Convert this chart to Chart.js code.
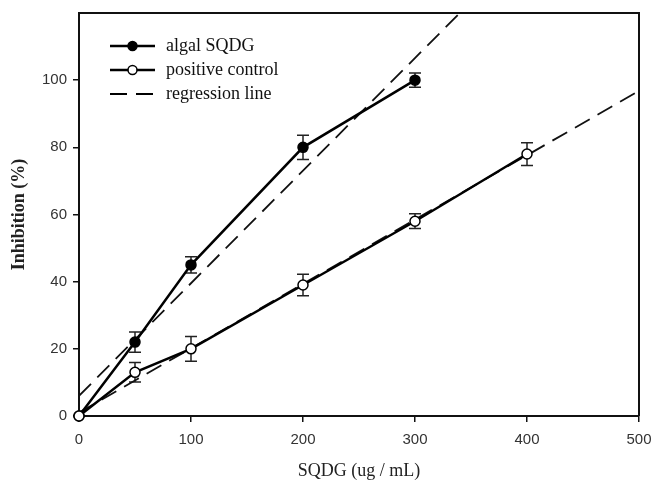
<!DOCTYPE html>
<html>
<head>
<meta charset="utf-8">
<script src="https://cdn.jsdelivr.net/npm/chart.js@4/dist/chart.umd.min.js"></script>
<style>
  html, body { margin: 0; padding: 0; background: #fff; }
  #wrap { width: 654px; height: 483px; }
</style>
</head>
<body>
<div id="wrap"><canvas id="chart" width="654" height="483"></canvas></div>
<script>
// data
var doses = [0, 50, 100, 200, 300, 400];
var algal = [0, 22, 45, 80, 100];
var algalErr = [0, 3, 2.4, 3.6, 2.1];
var control = [0, 13, 20, 39, 58, 78];
var controlErr = [0, 2.9, 3.7, 3.2, 2.2, 3.4];
// regression lines (end points)
var regAlgalX = [0, 340];
var regAlgalY = [6, 120];
var regControlX = [0, 500];
var regControlY = [1, 96.8];
var yTicks = [0, 20, 40, 60, 80, 100];

function pts(xs, ys){
  var out = [];
  for (var i = 0; i < ys.length; i++) out.push({x: xs[i], y: ys[i]});
  return out;
}

var serif = "'Liberation Serif', 'Times New Roman', serif";
var sans = "'Liberation Sans', Arial, sans-serif";

// error bars drawn through the scales
var errorBars = {
  id: 'errorBars',
  beforeDatasetsDraw: function(chart){
    var ctx = chart.ctx;
    var xs = chart.scales.x, ys = chart.scales.y;
    var sets = [[algal, algalErr], [control, controlErr]];
    ctx.save();
    ctx.strokeStyle = '#222';
    ctx.lineWidth = 1.5;
    sets.forEach(function(s){
      s[0].forEach(function(v, i){
        var e = s[1][i];
        if (!e) return;
        var px = xs.getPixelForValue(doses[i]);
        var top = ys.getPixelForValue(v + e);
        var bot = ys.getPixelForValue(v - e);
        ctx.beginPath();
        ctx.moveTo(px, top); ctx.lineTo(px, bot);
        ctx.moveTo(px - 6, top); ctx.lineTo(px + 6, top);
        ctx.moveTo(px - 6, bot); ctx.lineTo(px + 6, bot);
        ctx.stroke();
      });
    });
    ctx.restore();
  }
};

// frame on top/right + legend
var frameLegend = {
  id: 'frameLegend',
  afterDraw: function(chart){
    var ctx = chart.ctx;
    var a = chart.chartArea;
    ctx.save();
    ctx.strokeStyle = '#111';
    ctx.lineWidth = 2;
    ctx.beginPath();
    ctx.moveTo(a.left, a.top); ctx.lineTo(a.right, a.top); ctx.lineTo(a.right, a.bottom);
    ctx.stroke();

    var items = [
      {label: 'algal SQDG', fill: '#000', dash: []},
      {label: 'positive control', fill: '#fff', dash: []},
      {label: 'regression line', fill: null, dash: [17, 9]}
    ];
    var x0 = 110, x1 = 155, y = 46;
    ctx.font = '18px ' + serif;
    ctx.textBaseline = 'middle';
    items.forEach(function(it){
      ctx.strokeStyle = '#000';
      ctx.lineWidth = it.fill ? 2.5 : 1.8;
      ctx.setLineDash(it.dash);
      ctx.beginPath();
      ctx.moveTo(x0, y); ctx.lineTo(x1, y);
      ctx.stroke();
      ctx.setLineDash([]);
      if (it.fill) {
        ctx.beginPath();
        ctx.arc((x0 + x1) / 2, y, 4.5, 0, Math.PI * 2);
        ctx.fillStyle = it.fill;
        ctx.fill();
        ctx.lineWidth = 1.5;
        ctx.stroke();
      }
      ctx.fillStyle = '#111';
      ctx.fillText(it.label, 166, y);
      y += 24;
    });
    ctx.restore();
  }
};

new Chart(document.getElementById('chart'), {
  type: 'scatter',
  data: {
    datasets: [
      {
        label: 'positive control',
        data: pts(doses, control),
        showLine: true,
        borderColor: '#000',
        borderWidth: 2.5,
        pointRadius: 5,
        pointBorderWidth: 1.5,
        pointBackgroundColor: '#fff',
        pointBorderColor: '#000',
        clip: false,
        order: 0
      },
      {
        label: 'algal SQDG',
        data: pts(doses, algal),
        showLine: true,
        borderColor: '#000',
        borderWidth: 2.5,
        pointRadius: 5,
        pointBorderWidth: 1.5,
        pointBackgroundColor: '#000',
        pointBorderColor: '#000',
        clip: false,
        order: 1
      },
      {
        label: 'regression algal',
        data: pts(regAlgalX, regAlgalY),
        showLine: true,
        borderColor: '#111',
        borderWidth: 1.8,
        borderDash: [17, 9],
        pointRadius: 0,
        order: 2
      },
      {
        label: 'regression control',
        data: pts(regControlX, regControlY),
        showLine: true,
        borderColor: '#111',
        borderWidth: 1.8,
        borderDash: [17, 9],
        pointRadius: 0,
        order: 3
      }
    ]
  },
  options: {
    responsive: false,
    animation: false,
    layout: {padding: {top: 13, right: 15, left: 0, bottom: 0}},
    plugins: {
      legend: {display: false},
      tooltip: {enabled: false}
    },
    scales: {
      x: {
        type: 'linear',
        min: 0, max: 500,
        afterFit: function(s){ s.height = 67; s.paddingRight = 0; s.paddingLeft = 0; },
        ticks: {stepSize: 100, color: '#333', padding: 9, font: {family: sans, size: 15}},
        grid: {drawOnChartArea: false, tickLength: 6, color: '#111', lineWidth: 1.5},
        border: {color: '#111', width: 2},
        title: {display: true, text: 'SQDG (ug / mL)', color: '#222',
                font: {family: serif, size: 18}, padding: {top: 0, bottom: 1}}
      },
      y: {
        min: 0, max: 120,
        afterFit: function(s){ s.width = 79; s.paddingTop = 0; s.paddingBottom = 0; },
        afterBuildTicks: function(s){
          s.ticks = yTicks.concat([120]).map(function(v){ return {value: v}; });
        },
        ticks: {
          color: '#333', padding: 6, font: {family: sans, size: 15},
          callback: function(v){ return yTicks.indexOf(v) >= 0 ? String(v) : ''; }
        },
        grid: {
          drawOnChartArea: false, tickLength: 6, lineWidth: 1.5,
          color: function(c){ return c.tick && c.tick.value === 120 ? 'rgba(0,0,0,0)' : '#111'; }
        },
        border: {color: '#111', width: 2},
        title: {display: true, text: 'Inhibition (%)', color: '#222',
                font: {family: serif, size: 18, weight: 'bold'}, padding: {top: 9, bottom: 0}}
      }
    }
  },
  plugins: [errorBars, frameLegend]
});
</script>
</body>
</html>
